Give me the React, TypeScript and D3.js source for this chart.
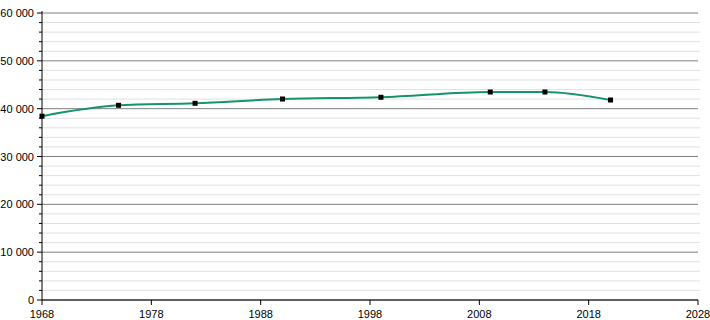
import React from "react";
import * as d3 from "d3";

const years = [1968, 1975, 1982, 1990, 1999, 2009, 2014, 2020];
const population = [38430, 40700, 41120, 42020, 42380, 43480, 43480, 41810];
const xTicks = [1968, 1978, 1988, 1998, 2008, 2018, 2028];
const yTicks = [0, 10000, 20000, 30000, 40000, 50000, 60000];

const W = 710, H = 320;
const left = 42, right = 698, top = 13, bottom = 300;

export default function App() {
  const x = d3.scaleLinear().domain([1968, 2028]).range([left, right]);
  const y = d3.scaleLinear().domain([0, 60000]).range([bottom, top]);
  const minor = d3.range(0, 60001, 2000).filter((v) => v % 10000 !== 0);
  const fmt = (v: number) => d3.format(",")(v).replace(/,/g, " ");
  const line = d3
    .line<number>()
    .x((_, i) => x(years[i]))
    .y((d) => y(d))
    .curve(d3.curveMonotoneX);
  return (
    <svg width={W} height={H} style={{ position: "absolute", left: 0, top: 0 }} fontFamily="Liberation Sans, Arial, sans-serif" fontSize={11}>
      {minor.map((v) => (
        <line key={"m" + v} x1={left} x2={right + 2} y1={y(v)} y2={y(v)} stroke="#e0e0e0" />
      ))}
      {yTicks.map((v) => (
        <line key={"g" + v} x1={left} x2={right} y1={y(v)} y2={y(v)} stroke="#808080" />
      ))}
      {minor.map((v) => (
        <line key={"mt" + v} x1={left - 3} x2={left} y1={y(v)} y2={y(v)} stroke="#000" />
      ))}
      {yTicks.map((v) => (
        <g key={"yt" + v}>
          <line x1={left - 5} x2={left} y1={y(v)} y2={y(v)} stroke="#000" />
          <text x={left - 8} y={y(v) + 4} textAnchor="end" fill="#000">{fmt(v)}</text>
        </g>
      ))}
      <line x1={left} x2={left} y1={top - 2} y2={bottom} stroke="#000" />
      <line x1={left} x2={right} y1={bottom} y2={bottom} stroke="#000" />
      {xTicks.map((v) => (
        <g key={"xt" + v}>
          <line x1={x(v)} x2={x(v)} y1={bottom} y2={bottom + 5} stroke="#000" />
          <text x={x(v)} y={bottom + 18} textAnchor="middle" fill="#000">{v}</text>
        </g>
      ))}
      <path d={line(population) || ""} fill="none" stroke="#15936d" strokeWidth={2} />
      {population.map((v, i) => (
        <rect key={"p" + i} x={x(years[i]) - 2.5} y={y(v) - 2.5} width={5} height={5} fill="#000" />
      ))}
    </svg>
  );
}
